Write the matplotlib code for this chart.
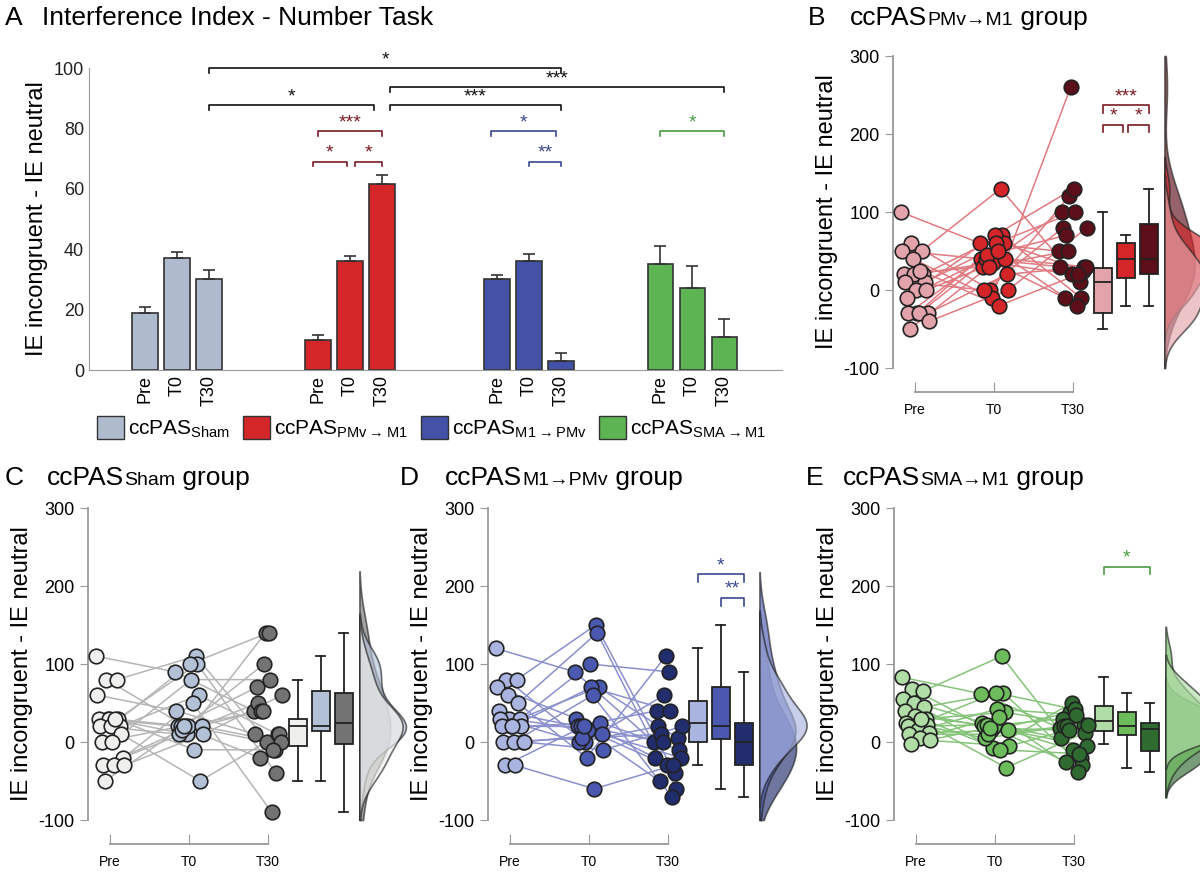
import numpy as np
import matplotlib
matplotlib.use("Agg")
import matplotlib.pyplot as plt
from matplotlib.patches import Patch
from matplotlib.offsetbox import TextArea, HPacker, AnchoredOffsetbox

plt.rcParams['font.family'] = ['Liberation Sans', 'DejaVu Sans']
plt.rcParams['axes.unicode_minus'] = False
plt.rcParams['mathtext.fontset'] = 'custom'
plt.rcParams['mathtext.rm'] = 'Liberation Sans'

# [1] data
conds = ['Pre', 'T0', 'T30']
bar_means = {'sham': [19, 37, 30], 'pmv': [10, 36, 61.5], 'm1': [30, 36, 3], 'sma': [35, 27, 11]}
bar_sems = {'sham': [2, 2, 3], 'pmv': [1.5, 1.8, 3], 'm1': [1.5, 2.5, 2.5], 'sma': [6, 7.5, 6]}
bar_colors = {'sham': '#aebbcc', 'pmv': '#d42528', 'm1': '#4352a6', 'sma': '#5cb552'}
group_offsets = [0, 5.4, 11.0, 16.1]

b_pre = [100, 60, 50, 50, 40, 20, 20, 20, 10, 10, 0, 0, -10, -30, -30, -30, -30, -40, -50, 25]
b_t0 = [130, 70, 70, 60, 60, 60, 50, 40, 40, 30, 30, 20, 0, 0, 0, -10, -20, 40, 35, 45]
b_t30 = [260, 130, 120, 100, 100, 80, 80, 70, 50, 50, 30, 30, 30, 20, 20, 10, -10, -10, -20, 25]

c_pre = [110, 80, 80, 60, 30, 30, 30, 30, 20, 20, 20, 10, 0, 0, -20, -30, -30, -30, -50, 30]
c_t0 = [110, 100, 100, 90, 80, 60, 50, 40, 20, 20, 20, 20, 20, 10, 10, 10, -10, -50, 20, 15]
c_t30 = [140, 140, 100, 80, 70, 60, 50, 40, 40, 40, 10, 10, 0, 0, -10, -10, -20, -40, -90, 10]

d_pre = [120, 80, 80, 70, 60, 50, 40, 30, 30, 30, 20, 20, 20, 20, 0, 0, 0, 0, -30, -30]
d_t0 = [150, 140, 100, 90, 70, 70, 60, 30, 20, 20, 20, 10, 0, 0, -10, -20, -60, 25, 15, 5]
d_t30 = [110, 90, 60, 40, 40, 20, 20, 10, 0, 0, -10, -20, -20, -30, -30, -40, -50, -60, -70, 5]

e_pre = [83, 68, 65, 55, 50, 45, 40, 33, 30, 25, 22, 22, 20, 15, 12, 10, 5, 2, -2, 30]
e_t0 = [110, 63, 63, 62, 42, 38, 32, 25, 22, 20, 18, 15, 15, 5, -5, -8, -10, -33, 20, 10]
e_t30 = [50, 42, 38, 35, 30, 22, 20, 20, 18, 15, 12, 5, -5, -10, -15, -20, -25, -30, -38, 22]

# subject order used to pair sessions (which pre goes with which T0/T30)
pair_t0 = [3, 12, 0, 7, 15, 1, 9, 18, 5, 13, 2, 17, 8, 4, 11, 19, 6, 14, 10, 16]
pair_t30 = [8, 2, 15, 11, 0, 17, 4, 13, 19, 6, 1, 10, 16, 3, 12, 7, 18, 5, 9, 14]

W, H = 1200, 872
fig = plt.figure(figsize=(12, 8.72), dpi=100)


def rect(x0, y0, x1, y1):
    return [x0 / W, 1 - y1 / H, (x1 - x0) / W, (y1 - y0) / H]


def title(x, y, pieces):
    kids = [TextArea(t, textprops=dict(size=s, color='black')) for t, s in pieces]
    pack = HPacker(children=kids, align='baseline', pad=0, sep=0)
    box = AnchoredOffsetbox(loc='lower left', child=pack, bbox_to_anchor=(x / W, 1 - y / H),
                            bbox_transform=fig.transFigure, frameon=False, borderpad=0, pad=0)
    fig.add_artist(box)


def bracket(ax, x0, x1, y, txt, color, drop, fs=14):
    ax.plot([x0, x0, x1, x1], [y - drop, y, y, y - drop], color=color, lw=1.2, clip_on=False)
    ax.text((x0 + x1) / 2, y, txt, color=color, ha='center', va='bottom', fontsize=fs, clip_on=False)


# [2] panel A
axA = fig.add_axes(rect(89, 68, 782, 370))
pos = {}
for g, key in zip(group_offsets, ['sham', 'pmv', 'm1', 'sma']):
    x = [g + i for i in range(3)]
    pos[key] = x
    axA.bar(x, bar_means[key], width=0.8, color=bar_colors[key], edgecolor='#333333', lw=1.2)
    axA.errorbar(x, bar_means[key], yerr=[[0, 0, 0], bar_sems[key]], fmt='none', ecolor='#333333',
                 elinewidth=1.2, capsize=4, capthick=1.2)
axA.set_xlim(-1.75, 19.9)
axA.set_ylim(0, 100)
axA.set_yticks([0, 20, 40, 60, 80, 100])
axA.tick_params(axis='y', labelsize=13, length=0, colors='#222222')
allx = sum(pos.values(), [])
axA.set_xticks(allx)
axA.set_xticklabels(conds * 4, rotation=90, fontsize=13)
axA.tick_params(axis='x', length=0)
for s in ['top', 'right']:
    axA.spines[s].set_visible(False)
axA.spines['left'].set_color('#999999')
axA.spines['bottom'].set_color('#999999')
axA.set_ylabel('IE incongruent - IE neutral', fontsize=17)
k = '#111111'
bracket(axA, pos['sham'][2], pos['m1'][2], 100, '*', k, 1.5)
bracket(axA, pos['pmv'][2] + 0.25, pos['sma'][2], 93.7, '***', k, 1.5)
bracket(axA, pos['sham'][2], pos['pmv'][2] - 0.25, 87.7, '*', k, 1.5)
bracket(axA, pos['pmv'][2] + 0.25, pos['m1'][2], 87.7, '***', k, 1.5)
bracket(axA, pos['pmv'][0], pos['pmv'][2], 79, '***', '#7a1a22', 1.5)
bracket(axA, pos['pmv'][0] - 0.15, pos['pmv'][1] - 0.1, 69, '*', '#7a1a22', 1.5)
bracket(axA, pos['pmv'][1] + 0.15, pos['pmv'][2], 69, '*', '#7a1a22', 1.5)
bracket(axA, pos['m1'][0] - 0.2, pos['m1'][2] - 0.15, 79, '*', '#3a4890', 1.5)
bracket(axA, pos['m1'][1], pos['m1'][2], 69, '**', '#3a4890', 1.5)
bracket(axA, pos['sma'][0], pos['sma'][2], 79, '*', '#4a9a40', 1.5)
handles = [Patch(facecolor=bar_colors[k2], edgecolor='#333333') for k2 in ['sham', 'pmv', 'm1', 'sma']]
labels = [r'ccPAS$_{\mathrm{Sham}}$', r'ccPAS$_{\mathrm{PMv}\rightarrow\mathrm{M1}}$',
          r'ccPAS$_{\mathrm{M1}\rightarrow\mathrm{PMv}}$', r'ccPAS$_{\mathrm{SMA}\rightarrow\mathrm{M1}}$']
fig.legend(handles, labels, loc='center', bbox_to_anchor=(432 / W, 1 - 428 / H), ncol=4, frameon=False,
           fontsize=15, handlelength=1.3, handleheight=1.3, handletextpad=0.2, columnspacing=0.6)


# [3] raincloud panels
def rain(ax, data, colors, lcolor, sigs, scolor):
    n = len(data[0])
    pre = np.asarray(data[0], float)
    t0 = np.asarray(data[1], float)[pair_t0]
    t30 = np.asarray(data[2], float)[pair_t30]
    jit = ((np.arange(n) * 7) % n) / (n - 1) * 0.36 - 0.18
    for i in range(n):
        ax.plot([0 + jit[i], 1 + jit[i], 2 + jit[i]], [pre[i], t0[i], t30[i]],
                color=lcolor, lw=1.1, zorder=1)
    for j, v in enumerate([pre, t0, t30]):
        ax.scatter(j + jit, v, s=110, color=colors[j], edgecolor='#222222', lw=1.2, zorder=3)
    bp = ax.boxplot(data, positions=[2.38, 2.67, 2.96], widths=0.23, patch_artist=True,
                    showfliers=False, manage_ticks=False)
    for p, c in zip(bp['boxes'], colors):
        p.set_facecolor(c)
        p.set_edgecolor('#222222')
        p.set_linewidth(1.3)
    for key in ['whiskers', 'caps', 'medians']:
        for l in bp[key]:
            l.set_color('#222222')
            l.set_linewidth(1.3)
    yy = np.linspace(-100, 300, 400)
    base = 3.16
    for j in [2, 1, 0]:
        v = np.asarray(data[j], float)
        bw = 1.06 * v.std() * len(v) ** -0.2
        dens = np.exp(-0.5 * ((yy[:, None] - v[None, :]) / bw) ** 2).sum(1) / (len(v) * bw * np.sqrt(2 * np.pi))
        mask = dens > dens.max() * 0.01
        ax.fill_betweenx(yy[mask], base, base + dens[mask] * 60, color=colors[j], alpha=0.65,
                         edgecolor='#222222', lw=1.2, clip_on=False, zorder=2)
    for x0, x1, y, t in sigs:
        bracket(ax, x0, x1, y, t, scolor, 10, fs=14)
    ax.set_xlim(-0.28, 3.7)
    ax.set_ylim(-100, 300)
    ax.set_yticks([-100, 0, 100, 200, 300])
    ax.set_xticks([0, 1, 2])
    ax.set_xticklabels(conds, fontsize=13)
    ax.spines['bottom'].set_position(('outward', 17))
    ax.spines['bottom'].set_bounds(0, 2)
    for s in ['top', 'right']:
        ax.spines[s].set_visible(False)
    for s in ['left', 'bottom']:
        ax.spines[s].set_color('#999999')
        ax.spines[s].set_linewidth(1.3)
    ax.tick_params(axis='x', direction='in', length=7, color='#999999', pad=8)
    ax.tick_params(axis='y', length=6, color='#999999', labelsize=13)
    ax.set_ylabel('IE incongruent - IE neutral', fontsize=17)


b1, b2, b3 = 2.38, 2.67, 2.96
axB = fig.add_axes(rect(893, 56, 1207, 368))
rain(axB, [b_pre, b_t0, b_t30], ['#e3a3aa', '#d42528', '#5c0f19'], '#e07a80',
     [(b1, b3, 237, '***'), (b1, b2 - 0.03, 212, '*'), (b2 + 0.03, b3, 212, '*')], '#7a1a22')
axC = fig.add_axes(rect(88, 508, 402, 820))
rain(axC, [c_pre, c_t0, c_t30], ['#efefed', '#b3c1d6', '#737373'], '#b5b5b5', [], 'k')
axD = fig.add_axes(rect(488, 508, 802, 820))
rain(axD, [d_pre, d_t0, d_t30], ['#aab4e0', '#4a58b0', '#222d6e'], '#8a90cc',
     [(b1, b3, 215, '*'), (b2, b3, 185, '**')], '#3a4890')
axE = fig.add_axes(rect(894, 508, 1208, 820))
rain(axE, [e_pre, e_t0, e_t30], ['#b0dca6', '#6cbc5c', '#2f6a30'], '#86c47a',
     [(b1, b3, 225, '*')], '#4a9a40')

# [4] titles
title(5, 30, [('A', 19)])
title(42, 30, [('Interference Index - Number Task', 19)])
title(808, 30, [('B', 19)])
title(850, 30, [('ccPAS', 19), ('PMv\u2192M1', 14), (' group', 19)])
title(5, 490, [('C', 19)])
title(47, 490, [('ccPAS', 19), ('Sham', 14), (' group', 19)])
title(400, 490, [('D', 19)])
title(445, 490, [('ccPAS', 19), ('M1\u2192PMv', 14), (' group', 19)])
title(806, 490, [('E', 19)])
title(843, 490, [('ccPAS', 19), ('SMA\u2192M1', 14), (' group', 19)])

fig.savefig('out.png', dpi=100)
